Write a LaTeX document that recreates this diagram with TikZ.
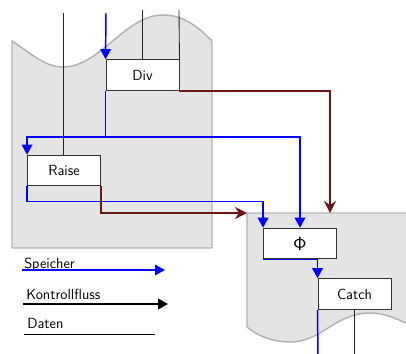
\documentclass[tikz,border=0pt]{standalone}
\usetikzlibrary{arrows.meta}
\definecolor{FlowRed}{RGB}{110,22,22}
\definecolor{MemBlue}{RGB}{0,0,255}
\definecolor{RegionGray}{RGB}{228,228,228}
\definecolor{RegionEdge}{RGB}{178,178,178}
\tikzset{
  region/.style={fill=RegionGray, draw=RegionEdge, line width=1.1pt},
  op box/.style={
    draw=black!80,
    fill=white,
    line width=0.7pt,
    minimum width=54.75pt,
    minimum height=23pt,
    inner sep=0pt,
    font=\fontsize{11}{13}\selectfont\sffamily
  },
  mem line/.style={draw=MemBlue, line width=1.1pt},
  mem arrow/.style={mem line, -{Triangle[length=7.5pt,width=8pt]}},
  ctrl arrow/.style={FlowRed, line width=1.6pt, -{Stealth[length=9pt,width=9pt,inset=3pt]}},
  data line/.style={black!85, line width=0.65pt},
  legend text/.style={anchor=base west, inner sep=0pt, font=\fontsize{11}{13}\selectfont\sffamily}
}
\begin{document}
\begin{tikzpicture}[x=0.75pt,y=-0.75pt]
\useasboundingbox (0,0) rectangle (406,353);
% regions
\path[region] (12,248) -- (12,41) .. controls (32,54) and (45,67) .. (63,67)
  .. controls (100,67) and (125,15) .. (163,15)
  .. controls (185,15) and (200,29) .. (212,41) -- (212,248) -- cycle;
\path[region] (247,327) -- (247,213) -- (414,213) -- (414,327)
  .. controls (395,318) and (385,313) .. (370,313)
  .. controls (335,313) and (322,342) .. (290,342)
  .. controls (270,342) and (255,334) .. (247,327) -- cycle;
% operations
\node[op box] (div) at (142.5,75) {Div};
\node[op box] (raise) at (64,170.5) {Raise};
\node[op box, font=\fontsize{15}{17}\selectfont] (phi) at (300,243.5) {$\mathsf{\Phi}$};
\node[op box] (catch) at (354.5,294) {Catch};
% free ends
\coordinate (in raise) at (63.5,13);
\coordinate (in div mem) at (106,13);
\coordinate (in div a) at (142.5,10);
\coordinate (in div b) at (179,10);
\coordinate (out catch mem) at (318,360);
\coordinate (out catch) at (354.5,360);
\coordinate (rtl) at (247,213);
\coordinate (rtop) at (330,213);
% data
\draw[data line] (in raise) -- (in raise |- raise.north);
\draw[data line] (in div a) -- (div.north);
\draw[data line] (in div b) -- (div.north east);
\draw[data line] (catch.south) -- (out catch);
% memory
\draw[mem arrow] (in div mem) -- (div.north west);
\draw[mem arrow] (div.south west) -- ++(0,46) coordinate (split) -| (phi.north);
\draw[mem arrow] (split) -| (raise.north west);
\draw[mem arrow] (raise.south west) -- ++(0,15) -| (phi.north west);
\draw[mem arrow] (phi.south west) -| (catch.north west);
\draw[mem line] (catch.south west) -- (out catch mem);
% control flow
\draw[ctrl arrow] (div.south east) -| (rtop);
\draw[ctrl arrow] (raise.south east) |- (rtl);
% legend
\node[legend text] (leg mem) at (24,268) {Speicher};
\node[legend text] (leg ctrl) at (26,299) {Kontrollfluss};
\node[legend text] (leg data) at (27,328) {Daten};
\coordinate (leg mem a) at (22,270);
\coordinate (leg mem b) at (165,270);
\coordinate (leg ctrl a) at (23,304);
\coordinate (leg ctrl b) at (168,304);
\coordinate (leg data a) at (24,334);
\coordinate (leg data b) at (155,334);
\draw[mem arrow, line width=0.9pt] (leg mem a) -- (leg mem b);
\draw[line width=1.6pt, -{Triangle[length=7.5pt,width=8pt]}] (leg ctrl a) -- (leg ctrl b);
\draw[data line, black] (leg data a) -- (leg data b);
\end{tikzpicture}
\end{document}
